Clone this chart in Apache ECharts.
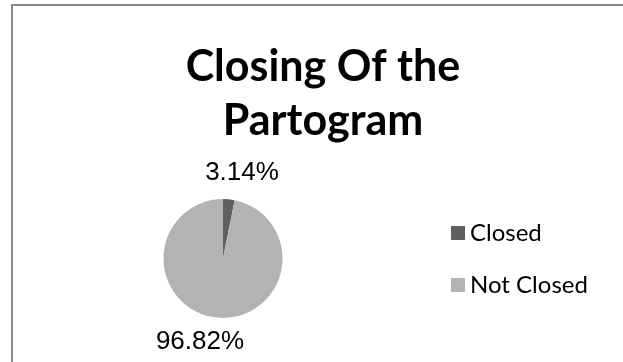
<!DOCTYPE html>
<html><head><meta charset="utf-8">
<script src="https://cdn.jsdelivr.net/npm/echarts@6/dist/echarts.min.js"></script>
<style>html,body{margin:0;padding:0;background:#fff}#c{width:623px;height:362px}</style>
</head><body><div id="c"></div>
<script>
const categories = ['Closed', 'Not Closed'];
const values = [3.14, 96.82];
const labelsText = ['3.14%', '96.82%'];
const colors = ['#606060', '#b3b3b3'];
const titleText = 'Closing Of the\nPartogram';

const chart = echarts.init(document.getElementById('c'));
const labelPos = [[242, 173], [200, 342]];
chart.setOption({
  animation: false,
  backgroundColor: '#fff',
  graphic: [{
    type: 'polyline', shape: {points: [[12, 400], [12, 5], [700, 5]]},
    style: {fill: 'none', stroke: '#8a8a8a', lineWidth: 2}, silent: true
  }],
  title: {
    text: titleText, left: 318, top: 35, textAlign: 'center',
    textStyle: {fontFamily: 'Lato', fontWeight: 'bold', fontSize: 43, lineHeight: 54, color: '#000'}
  },
  legend: {
    orient: 'vertical', left: 451, top: 220, padding: 0, itemWidth: 14, itemHeight: 14, itemGap: 26,
    icon: 'rect',
    data: categories,
    textStyle: {fontFamily: 'Lato', fontSize: 24, lineHeight: 26, color: '#000'}
  },
  series: [{
    type: 'pie', center: [223, 258.5], radius: 59.5, startAngle: 90, clockwise: true,
    color: colors,
    label: {
      show: true, position: 'outside', fontFamily: 'Liberation Sans', fontSize: 26, color: '#000',
      formatter: p => labelsText[p.dataIndex]
    },
    labelLine: {show: false},
    labelLayout: p => ({x: labelPos[p.dataIndex][0], y: labelPos[p.dataIndex][1], align: 'center', verticalAlign: 'middle'}),
    data: categories.map((n, i) => ({name: n, value: values[i]}))
  }]
});
</script></body></html>
